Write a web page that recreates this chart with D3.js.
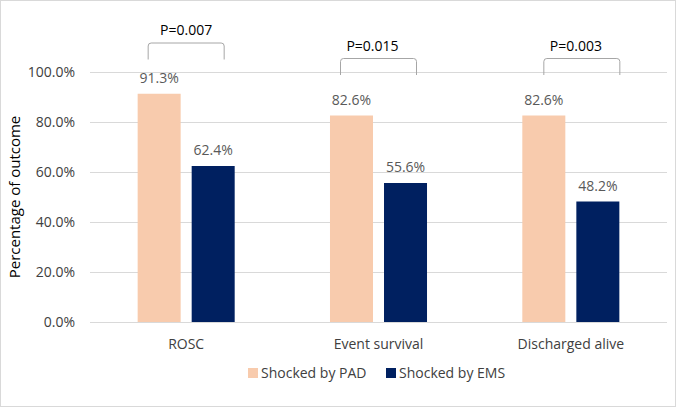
<!DOCTYPE html>
<html>
<head>
<meta charset="utf-8">
<script src="https://cdn.jsdelivr.net/npm/d3@7"></script>
<style>
   body { margin: 0; background: #fff; }
   svg { font-family: "Open Sans", sans-serif; }
</style>
</head>
<body>
<svg class="outcomes" width="677" height="408"></svg>
<script>
// DATA
var categories = ['ROSC', 'Event survival', 'Discharged alive'];
var seriesNames = ['Shocked by PAD', 'Shocked by EMS'];
var padValues = [91.3, 82.6, 82.6];
var emsValues = [62.4, 55.6, 48.2];
var pValues = ['P=0.007', 'P=0.015', 'P=0.003'];
var yTicks = [0, 20, 40, 60, 80, 100];

var colors = ['#f8cbad', '#002060'];

var svg = d3.select('svg.outcomes');
var width = +svg.attr('width'), height = +svg.attr('height');

// chart border
svg.append('rect')
   .attr('x', 0.5).attr('y', 0.5)
   .attr('width', width - 2).attr('height', height - 2)
   .attr('fill', '#fff')
   .attr('stroke', '#d9d9d9');

var plot = {left: 90, right: 667, top: 72, bottom: 322};

var x = d3.scaleBand()
   .domain(categories)
   .range([plot.left, plot.right]);

var xInner = d3.scaleBand()
   .domain(seriesNames)
   .range([0, x.bandwidth()])
   .paddingInner(0.204)
   .paddingOuter(0.882);

var y = d3.scaleLinear()
   .domain([0, 100])
   .range([plot.bottom, plot.top]);

// gridlines + y labels
var yAxis = d3.axisLeft(y)
   .tickValues(yTicks)
   .tickSize(-(plot.right - plot.left))
   .tickPadding(15)
   .tickFormat(function (d) { return d3.format('.1f')(d) + '%'; });

var yg = svg.append('g')
   .attr('transform', 'translate(' + plot.left + ',0)')
   .call(yAxis);
yg.select('.domain').remove();
yg.selectAll('.tick line').attr('stroke', '#d9d9d9').attr('stroke-width', 1);
yg.selectAll('.tick text')
   .attr('fill', '#404040')
   .style('font-size', '14px')
   .style('font-family', '"Open Sans", sans-serif');

// bars
var rows = categories.map(function (c, i) {
   return {category: c, values: [padValues[i], emsValues[i]]};
});

var groups = svg.selectAll('.group')
   .data(rows)
   .enter().append('g')
   .attr('class', 'group')
   .attr('transform', function (d) { return 'translate(' + x(d.category) + ',0)'; });

groups.selectAll('rect')
   .data(function (d) {
      return d.values.map(function (v, j) { return {key: seriesNames[j], value: v, idx: j}; });
   })
   .enter().append('rect')
   .attr('x', function (d) { return xInner(d.key); })
   .attr('y', function (d) { return y(d.value); })
   .attr('width', xInner.bandwidth())
   .attr('height', function (d) { return y(0) - y(d.value); })
   .attr('fill', function (d) { return colors[d.idx]; });

groups.selectAll('.value')
   .data(function (d) {
      return d.values.map(function (v, j) { return {key: seriesNames[j], value: v}; });
   })
   .enter().append('text')
   .attr('class', 'value')
   .attr('x', function (d) { return xInner(d.key) + xInner.bandwidth() / 2; })
   .attr('y', function (d) { return y(d.value) - 11; })
   .attr('text-anchor', 'middle')
   .attr('fill', '#595959')
   .style('font-size', '14px')
   .text(function (d) { return d.value.toFixed(1) + '%'; });

// category labels
svg.append('g').selectAll('text')
   .data(categories)
   .enter().append('text')
   .attr('x', function (d) { return x(d) + x.bandwidth() / 2; })
   .attr('y', plot.bottom + 27)
   .attr('text-anchor', 'middle')
   .attr('fill', '#404040')
   .style('font-size', '14px')
   .text(function (d) { return d; });

// y axis title
svg.append('text')
   .attr('transform', 'translate(20,' + (plot.top + plot.bottom) / 2 + ') rotate(-90)')
   .attr('text-anchor', 'middle')
   .attr('fill', '#000')
   .style('font-size', '15px')
   .text('Percentage of outcome');

// significance brackets (hand placed in the original, so offsets per bracket)
var bracketShift = [0, 0, 11];
var bracketTop = [111.6, 105.4, 105.4];
var bracketDrop = 6.6;
var bracketHalf = 38;

var brackets = svg.append('g').selectAll('g')
   .data(categories)
   .enter().append('g');

brackets.append('path')
   .attr('fill', 'none')
   .attr('stroke', '#a6a6a6')
   .attr('stroke-width', 1)
   .attr('d', function (d, i) {
      var cx = x(d) + x.bandwidth() / 2 + bracketShift[i];
      var x0 = cx - bracketHalf, x1 = cx + bracketHalf;
      var yt = y(bracketTop[i]), yb = y(bracketTop[i] - bracketDrop);
      var r = 3;
      return 'M' + x0 + ',' + yb + 'V' + (yt + r) + 'Q' + x0 + ',' + yt + ' ' + (x0 + r) + ',' + yt +
         'H' + (x1 - r) + 'Q' + x1 + ',' + yt + ' ' + x1 + ',' + (yt + r) + 'V' + yb;
   });

brackets.append('text')
   .attr('x', function (d, i) { return x(d) + x.bandwidth() / 2 + bracketShift[i] - (i > 0 ? 6 : 0); })
   .attr('y', function (d, i) { return y(bracketTop[i]) - 8; })
   .attr('text-anchor', 'middle')
   .attr('fill', '#000')
   .style('font-size', '14px')
   .text(function (d, i) { return pValues[i]; });

// legend
var legendX = [248, 386];
var legend = svg.append('g').selectAll('g')
   .data(seriesNames)
   .enter().append('g')
   .attr('transform', function (d, i) { return 'translate(' + legendX[i] + ',368)'; });

legend.append('rect')
   .attr('width', 10).attr('height', 10)
   .attr('fill', function (d, i) { return colors[i]; });

legend.append('text')
   .attr('x', 13)
   .attr('y', 10)
   .attr('fill', '#404040')
   .style('font-size', '14px')
   .text(function (d) { return d; });
</script>
</body>
</html>
